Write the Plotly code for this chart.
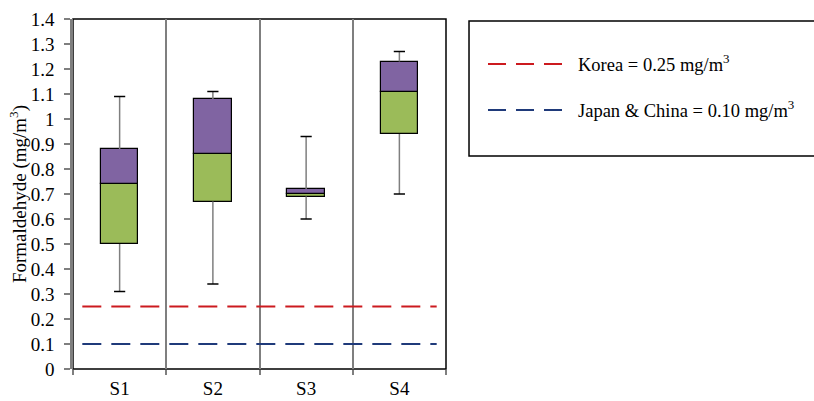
import plotly.graph_objects as go

# Sampling sites and five-number summaries of formaldehyde (mg/m3)
sites = ["S1", "S2", "S3", "S4"]
minimum = [0.31, 0.34, 0.60, 0.70]
q1 = [0.50, 0.67, 0.69, 0.94]
median = [0.74, 0.86, 0.70, 1.11]
q3 = [0.88, 1.08, 0.72, 1.23]
maximum = [1.09, 1.11, 0.93, 1.27]

# Indoor air guideline values (mg/m3)
guideline_names = ["Korea", "Japan & China"]
guideline_values = [0.25, 0.10]
guideline_colors = ["#CC1A1F", "#1F3A7A"]

y_ticks = [round(0.1 * i, 1) for i in range(15)]

FONT = "Times New Roman, Liberation Serif, serif"
GREEN = "#9BBB59"
PURPLE = "#8064A2"
GRAY = "#7F7F7F"

xpos = list(range(1, len(sites) + 1))

fig = go.Figure()

# Whiskers (drawn as two segments so they do not cross the boxes)
wx, wy = [], []
for x, lo, a, b, hi in zip(xpos, minimum, q1, q3, maximum):
    wx += [x, x, None, x, x, None]
    wy += [lo, a, None, b, hi, None]
fig.add_trace(go.Scatter(x=wx, y=wy, mode="lines",
                         line=dict(color=GRAY, width=1.5),
                         hoverinfo="skip", showlegend=False))

# Whisker caps
fig.add_trace(go.Scatter(x=xpos + xpos, y=minimum + maximum, mode="markers",
                         marker=dict(symbol="line-ew", size=8,
                                     line=dict(color="black", width=1.5)),
                         hoverinfo="skip", showlegend=False))

# Lower half of each box (Q1 to median)
fig.add_trace(go.Bar(x=xpos, y=[m - a for m, a in zip(median, q1)], base=q1,
                     width=0.4, marker=dict(color=GREEN,
                                            line=dict(color="black", width=1.2)),
                     showlegend=False))
# Upper half of each box (median to Q3)
fig.add_trace(go.Bar(x=xpos, y=[b - m for b, m in zip(q3, median)], base=median,
                     width=0.4, marker=dict(color=PURPLE,
                                            line=dict(color="black", width=1.2)),
                     showlegend=False))

# Guideline reference lines
for val, col in zip(guideline_values, guideline_colors):
    fig.add_trace(go.Scatter(x=[0.6, 4.4], y=[val, val], mode="lines",
                             line=dict(color=col, width=2.2, dash="19px,10px"),
                             hoverinfo="skip", showlegend=False))

shapes = [
    # plot frame
    dict(type="rect", xref="paper", yref="paper", x0=0, x1=1, y0=0, y1=1,
         line=dict(color="black", width=1.5), layer="below"),
    # legend frame
    dict(type="rect", xref="paper", yref="paper", x0=1.0617, x1=2.0, y0=0.6086,
         y1=0.9943, line=dict(color="black", width=1.5)),
]
annotations = []
legend_y = [0.8714, 0.74]
for name, val, col, ly in zip(guideline_names, guideline_values, guideline_colors, legend_y):
    shapes.append(dict(type="line", xref="paper", yref="paper", x0=1.1126, x1=1.3190,
                       y0=ly, y1=ly, line=dict(color=col, width=2.2, dash="18px,10px")))
    annotations.append(dict(xref="paper", yref="paper", x=1.3485, y=ly + 0.004,
                            xanchor="left", yanchor="middle", showarrow=False,
                            text=f"{name} = {val:.2f} mg/m<sup>3</sup>",
                            font=dict(family=FONT, size=18.5, color="black")))

fig.update_layout(
    width=814, height=401,
    margin=dict(l=73, r=368, t=19, b=32),
    paper_bgcolor="white", plot_bgcolor="white",
    barmode="overlay", bargap=0,
    font=dict(family=FONT, size=19, color="black"),
    shapes=shapes, annotations=annotations,
    showlegend=False,
)
fig.update_xaxes(
    range=[0.5, 4.5], tickmode="array", tickvals=xpos, ticktext=sites,
    ticks="", showgrid=False, zeroline=False, showline=False, automargin=False,
    ticklabelstandoff=6,
    minor=dict(tick0=0.5, dtick=1, ticks="outside", ticklen=5, tickcolor=GRAY,
               tickwidth=1.5, showgrid=True, gridcolor=GRAY, gridwidth=1.5),
    tickfont=dict(family=FONT, size=19),
)
fig.update_yaxes(
    range=[0, 1.4], tickmode="array", tickvals=y_ticks,
    ticktext=[f"{v:g}" for v in y_ticks],
    ticks="outside", ticklen=6, tickcolor=GRAY, tickwidth=1.5, automargin=False,
    ticklabelstandoff=6,
    showgrid=False, zeroline=False, showline=True, linecolor=GRAY, linewidth=2.5,
    title=dict(text="Formaldehyde (mg/m<sup>3</sup>)", standoff=0,
               font=dict(family=FONT, size=19)),
    tickfont=dict(family=FONT, size=19),
)

fig.write_html("out.html")
